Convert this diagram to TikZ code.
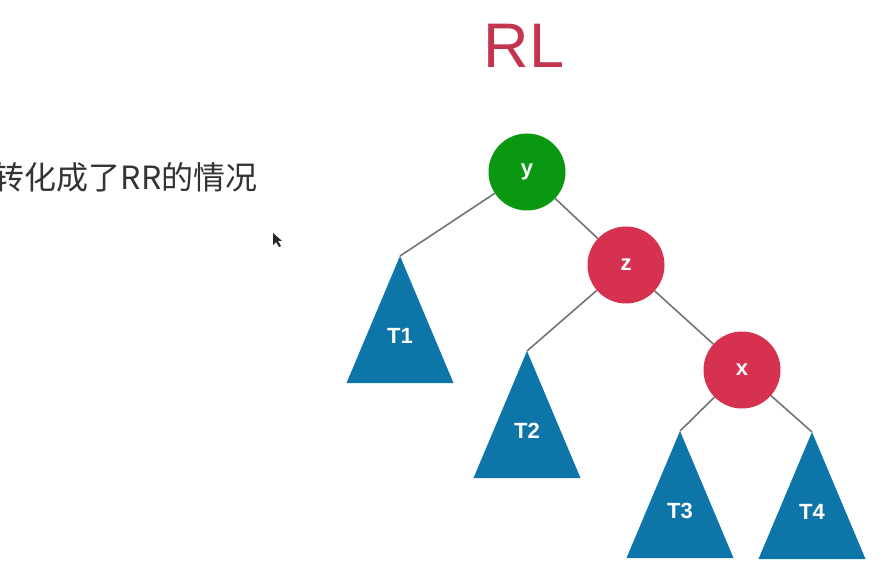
\documentclass[tikz,border=0pt]{standalone}
\usepackage{fontspec}
\setmainfont{Liberation Sans}
\newfontfamily\cjk{Noto Sans CJK SC}
\usepackage{tikz}
\definecolor{rlred}{RGB}{214,50,80}
\definecolor{titlered}{RGB}{196,52,78}
\definecolor{rlgreen}{RGB}{10,152,18}
\definecolor{rlblue}{RGB}{14,117,168}
\definecolor{edgegray}{RGB}{115,115,115}

\begin{document}
\begin{tikzpicture}[x=1pt, y=-1pt,
			knoten/.style={circle, fill=#1, minimum size=77pt, inner sep=0pt, text=white, font=\fontsize{22}{22}\selectfont\bfseries},
			kante/.style={draw=edgegray, line width=1.6pt},
			baum/.style={fill=rlblue},
			baumtext/.style={text=white, font=\fontsize{22}{22}\selectfont\bfseries}]
			%Bildbereich
			\useasboundingbox (0,0) rectangle (886,577);
			%Titel und Hinweis
			\node[anchor=base, text=titlered, font=\fontsize{63}{63}\selectfont] (titel) at (524,68) {RL};
			\node[anchor=east, text=black!80, font=\cjk\fontsize{32}{32}\selectfont] (hinweis) at (261,177) {转化成了RR的情况};
			%Knoten zeichnen
			\node[knoten=rlgreen] (y) at (527,172) {y};
			\node[knoten=rlred] (z) at (626,265) {z};
			\node[knoten=rlred] (x) at (742,370) {x};
			%Teilbaeume zeichnen
			\foreach \n/\px/\py in {T1/400/256,T2/527/351,T3/680/431,T4/812/432} {
				\fill[baum] (\px,\py) -- ++(-53.5,127) -- ++(107,0) -- cycle;
				\coordinate (top\n) at (\px,\py);
				\node[baumtext] (\n) at (\px,\py+80) {\n};
			}
			%Kanten
			\draw[kante] (y) -- (topT1);
			\draw[kante] (y) -- (z);
			\draw[kante] (z) -- (topT2);
			\draw[kante] (z) -- (x);
			\draw[kante] (x) -- (topT3);
			\draw[kante] (x) -- (topT4);
			%Mauszeiger
			\fill[black!85] (273,233) -- (273,245) -- (276,242) -- (279,247) -- (281,246) -- (278,241) -- (282,241) -- cycle;
		\end{tikzpicture}
\end{document}
